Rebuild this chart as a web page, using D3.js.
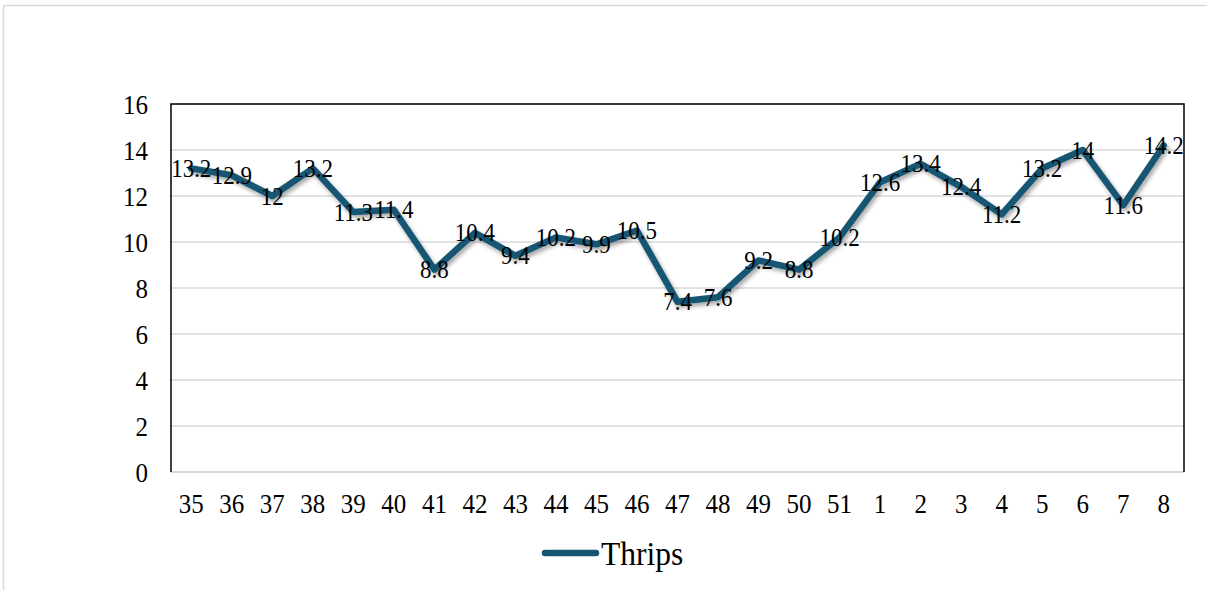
<!DOCTYPE html>
<html>
<head>
<meta charset="utf-8">
<script src="https://cdn.jsdelivr.net/npm/d3@7"></script>
<style>
  html, body { margin: 0; padding: 0; background: #fff; }
  svg { display: block; }
  text { font-family: "Liberation Serif", "Times New Roman", serif; fill: #000; }
</style>
</head>
<body>
<svg id="chart" width="1207" height="590"></svg>
<script>
const weeks = ["35","36","37","38","39","40","41","42","43","44","45","46","47","48","49","50","51","1","2","3","4","5","6","7","8"];
const thrips = [13.2,12.9,12,13.2,11.3,11.4,8.8,10.4,9.4,10.2,9.9,10.5,7.4,7.6,9.2,8.8,10.2,12.6,13.4,12.4,11.2,13.2,14,11.6,14.2];
const yTicks = [0,2,4,6,8,10,12,14,16];
const seriesName = "Thrips";

const svg = d3.select("#chart");
const W = 1207, H = 590;
const plot = {left: 171, top: 104, right: 1184, bottom: 472};
const lineColor = "#155673";
const stretch = 1.1; // reference text is slightly taller than wide

svg.append("rect")
  .attr("x", 3.5).attr("y", 5.5)
  .attr("width", W + 10).attr("height", H + 10)
  .attr("fill", "#fff").attr("stroke", "#d9d9d9").attr("stroke-width", 1.5);

const defs = svg.append("defs");
const f = defs.append("filter").attr("id", "shadow")
  .attr("x", "-10%").attr("y", "-10%").attr("width", "120%").attr("height", "130%");
f.append("feDropShadow").attr("dx", 2).attr("dy", 3).attr("stdDeviation", 2)
  .attr("flood-color", "#000").attr("flood-opacity", 0.35);

const x = d3.scaleBand().domain(weeks).range([plot.left, plot.right]).paddingInner(0).paddingOuter(0);
const y = d3.scaleLinear().domain([0, 16]).range([plot.bottom, plot.top]);

svg.append("g").selectAll("line").data(yTicks).join("line")
  .attr("x1", plot.left).attr("x2", plot.right)
  .attr("y1", d => y(d)).attr("y2", d => y(d))
  .attr("stroke", "#d9d9d9").attr("stroke-width", d => d === 0 ? 2 : 1.5);

svg.append("path")
  .attr("d", `M${plot.left},${plot.bottom}V${plot.top}H${plot.right}V${plot.bottom}`)
  .attr("fill", "none").attr("stroke", "#000").attr("stroke-width", 1.5);

// y axis labels
const yAxis = d3.axisLeft(y).tickValues(yTicks).tickSize(0).tickPadding(23);
const gy = svg.append("g").attr("transform", `translate(${plot.left},0)`).call(yAxis);
gy.select(".domain").remove();
gy.selectAll(".tick text")
  .style("font-family", "Liberation Serif").style("font-size", "25px").attr("fill", "#000")
  .attr("dy", null).attr("y", 0)
  .attr("transform", `translate(0,9) scale(1,${stretch})`);

// x axis labels
const xAxis = d3.axisBottom(x).tickSize(0).tickPadding(20);
const gx = svg.append("g").attr("transform", `translate(0,${plot.bottom})`).call(xAxis);
gx.select(".domain").remove();
gx.selectAll(".tick text")
  .style("font-family", "Liberation Serif").style("font-size", "25px").attr("fill", "#000")
  .attr("dy", null).attr("y", 0)
  .attr("transform", `translate(0,41) scale(1,${stretch})`);

const cx = i => x(weeks[i]) + x.bandwidth() / 2;

const line = d3.line().x((d, i) => cx(i)).y(d => y(d));
svg.append("path").datum(thrips)
  .attr("d", line)
  .attr("fill", "none").attr("stroke", lineColor).attr("stroke-width", 6.5)
  .attr("stroke-linejoin", "round").attr("stroke-linecap", "round")
  .attr("filter", "url(#shadow)");

// data labels (centered on points)
svg.append("g").selectAll("text").data(thrips).join("text")
  .attr("transform", (d, i) => `translate(${cx(i)},${y(d) + 8.5}) scale(1,${stretch})`)
  .attr("text-anchor", "middle")
  .style("font-size", "23px")
  .text(d => d);

// legend
const lg = svg.append("g");
lg.append("line").attr("x1", 545).attr("x2", 596).attr("y1", 553).attr("y2", 553)
  .attr("stroke", lineColor).attr("stroke-width", 6.5).attr("stroke-linecap", "round");
lg.append("text").attr("transform", `translate(601,565) scale(1,1.04)`).style("font-size", "31.5px").text(seriesName);
</script>
</body>
</html>
